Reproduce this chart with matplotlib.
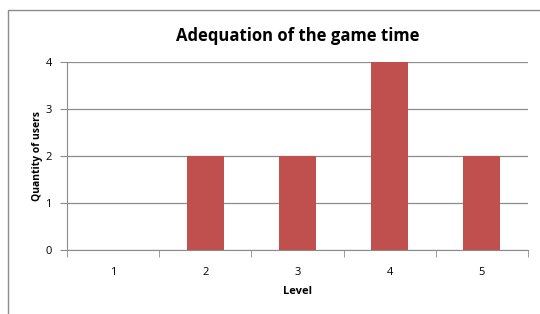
import matplotlib.pyplot as plt
from matplotlib.patches import Rectangle

levels = ["1", "2", "3", "4", "5"]
users = [0, 2, 2, 4, 2]

plt.rcParams["font.family"] = ["Open Sans", "DejaVu Sans"]

W, H = 540, 314
fig = plt.figure(figsize=(W / 100, H / 100), dpi=100)

# chart frame (cut off at right and bottom like the screenshot)
fig.patches.append(Rectangle((8 / W, -0.05), 1.2, (H - 10) / H + 0.05,
                             transform=fig.transFigure, fill=False,
                             edgecolor="#8c8c8c", linewidth=1))

ax = fig.add_axes([67 / W, 1 - 250 / H, (528 - 67) / W, (250 - 62) / H])

x = range(len(levels))
ax.bar(x, users, width=0.4, color="#C0504D", zorder=3)

ax.set_xlim(-0.5, len(levels) - 0.5)
ax.set_ylim(0, 4)
ax.set_yticks([0, 1, 2, 3, 4])
ax.set_xticks(x)
ax.set_xticklabels(levels)
ax.set_xticks([i - 0.5 for i in range(len(levels) + 1)], minor=True)

ax.grid(axis="y", color="#8c8c8c", linewidth=0.9, zorder=0)
for s in ["top", "right"]:
    ax.spines[s].set_visible(False)
for s in ["left", "bottom"]:
    ax.spines[s].set_color("#8c8c8c")
ax.tick_params(axis="x", which="major", length=0, pad=12, labelsize=8)
ax.tick_params(axis="x", which="minor", length=5, color="#8c8c8c", direction="out")
ax.tick_params(axis="y", length=5, color="#8c8c8c", labelsize=8, pad=6)

ax.set_title("Adequation of the game time", fontsize=12, fontweight="bold", pad=15)
ax.set_xlabel("Level", fontsize=8, fontweight="bold", labelpad=6)
ax.set_ylabel("Quantity of users", fontsize=7.5, fontweight="bold", labelpad=2)

fig.savefig("out.png", dpi=100)
